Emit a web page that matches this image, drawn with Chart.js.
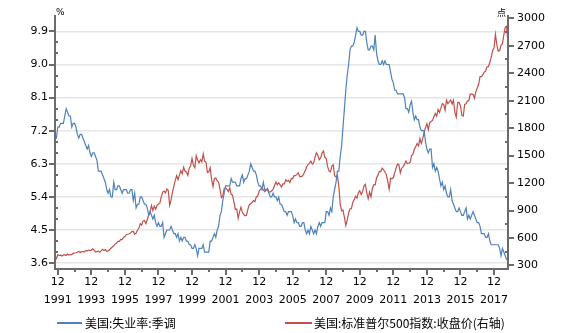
<!DOCTYPE html>
<html><head><meta charset="utf-8">
<script src="https://cdn.jsdelivr.net/npm/chart.js@4/dist/chart.umd.min.js"></script>
<style>
html,body{margin:0;padding:0;background:#fff;}
#wrap{position:relative;width:582px;height:333px;overflow:hidden;}
#c{position:absolute;left:0;top:0;}
.unit{position:absolute;font-family:"DejaVu Sans",sans-serif;font-size:9px;line-height:10px;color:#000;}
.unitcjk{position:absolute;font-family:"Noto Sans CJK SC",sans-serif;font-size:9px;line-height:10px;color:#000;}
.leg{position:absolute;font-family:"Noto Sans CJK SC",sans-serif;font-size:12px;line-height:14px;color:#000;white-space:nowrap;}
.legline{position:absolute;height:2px;}
</style></head>
<body>
<div id="wrap">
<canvas id="c" width="582" height="333"></canvas>
<span class="unit" style="left:56px;top:7px;">%</span>
<span class="unitcjk" style="left:497px;top:8px;">点</span>
<div class="legline" style="left:57px;top:322px;width:25px;background:#4F81BD;"></div>
<span class="leg" style="left:85px;top:316px;">美国:失业率:季调</span>
<div class="legline" style="left:285px;top:322px;width:27px;background:#C0504D;"></div>
<span class="leg" style="left:314px;top:316px;">美国:标准普尔500指数:收盘价(右轴)</span>
</div>
<script>
// Monthly data, Oct 1991 .. Oct 2018
const startLabel = '1991-10';
const seriesNames = ['美国:失业率:季调', '美国:标准普尔500指数:收盘价(右轴)'];

const unemployment = [
  7.0, 7.0, 7.3,
  7.3, 7.4, 7.4, 7.4, 7.6, 7.8, 7.7, 7.6, 7.6, 7.3, 7.4, 7.4,
  7.3, 7.1, 7.0, 7.1, 7.1, 7.0, 6.9, 6.8, 6.7, 6.8, 6.6, 6.5,
  6.6, 6.6, 6.5, 6.4, 6.1, 6.1, 6.1, 6.0, 5.9, 5.8, 5.6, 5.5,
  5.6, 5.4, 5.4, 5.8, 5.6, 5.6, 5.7, 5.7, 5.6, 5.5, 5.6, 5.6,
  5.6, 5.5, 5.5, 5.6, 5.6, 5.3, 5.5, 5.1, 5.2, 5.2, 5.4, 5.4,
  5.3, 5.2, 5.2, 5.1, 4.9, 5.0, 4.9, 4.8, 4.9, 4.7, 4.6, 4.7,
  4.6, 4.6, 4.7, 4.3, 4.4, 4.5, 4.5, 4.5, 4.6, 4.5, 4.4, 4.4,
  4.3, 4.4, 4.2, 4.3, 4.2, 4.3, 4.3, 4.2, 4.2, 4.1, 4.1, 4.0,
  4.0, 4.1, 4.0, 3.8, 4.0, 4.0, 4.0, 4.1, 3.9, 3.9, 3.9, 3.9,
  4.2, 4.2, 4.3, 4.4, 4.3, 4.5, 4.6, 4.9, 5.0, 5.3, 5.5, 5.7,
  5.7, 5.7, 5.7, 5.9, 5.8, 5.8, 5.8, 5.7, 5.7, 5.7, 5.9, 6.0,
  5.8, 5.9, 5.9, 6.0, 6.1, 6.3, 6.2, 6.1, 6.1, 6.0, 5.8, 5.7,
  5.7, 5.6, 5.8, 5.6, 5.6, 5.6, 5.5, 5.4, 5.4, 5.5, 5.4, 5.4,
  5.3, 5.4, 5.2, 5.2, 5.1, 5.0, 5.0, 4.9, 5.0, 5.0, 5.0, 4.9,
  4.7, 4.8, 4.7, 4.7, 4.6, 4.6, 4.7, 4.7, 4.5, 4.4, 4.5, 4.4,
  4.6, 4.5, 4.4, 4.5, 4.4, 4.6, 4.7, 4.6, 4.7, 4.7, 4.7, 5.0,
  5.0, 4.9, 5.1, 5.0, 5.4, 5.6, 5.8, 6.1, 6.1, 6.5, 6.8, 7.3,
  7.8, 8.3, 8.7, 9.0, 9.4, 9.5, 9.5, 9.6, 9.8, 10.0, 9.9, 9.9,
  9.8, 9.8, 9.9, 9.9, 9.6, 9.4, 9.4, 9.5, 9.5, 9.4, 9.8, 9.3,
  9.1, 9.0, 9.0, 9.1, 9.0, 9.1, 9.0, 9.0, 9.0, 8.8, 8.6, 8.5,
  8.3, 8.3, 8.2, 8.2, 8.2, 8.2, 8.2, 8.1, 7.8, 7.8, 7.7, 7.9,
  8.0, 7.7, 7.5, 7.6, 7.5, 7.5, 7.3, 7.2, 7.2, 7.2, 6.9, 6.7,
  6.6, 6.7, 6.7, 6.2, 6.3, 6.1, 6.2, 6.1, 5.9, 5.7, 5.8, 5.6,
  5.7, 5.5, 5.4, 5.4, 5.6, 5.3, 5.2, 5.1, 5.0, 5.0, 5.1, 5.0,
  4.9, 4.9, 5.0, 5.1, 4.8, 4.9, 4.8, 4.9, 5.0, 4.9, 4.8, 4.7,
  4.7, 4.6, 4.4, 4.4, 4.4, 4.3, 4.3, 4.4, 4.2, 4.1, 4.1, 4.1,
  4.1, 4.1, 4.1, 4.0, 3.8, 4.0, 3.9, 3.8, 3.7, 3.7
];

const sp500 = [
  392.45, 375.22, 417.09,
  408.79, 412.70, 403.69, 414.95, 415.35, 408.14, 424.21, 414.03, 417.80, 418.68, 431.35, 435.71,
  438.78, 443.38, 451.67, 440.19, 450.19, 450.53, 448.13, 463.56, 458.93, 467.83, 461.79, 466.45,
  481.61, 467.14, 445.77, 450.91, 456.50, 444.27, 458.26, 475.49, 462.69, 472.35, 453.69, 459.27,
  470.42, 487.39, 500.71, 514.71, 533.40, 544.75, 562.06, 561.88, 584.41, 581.50, 605.37, 615.93,
  636.02, 640.43, 645.50, 654.17, 669.12, 670.63, 639.95, 651.99, 687.31, 705.27, 757.02, 740.74,
  786.16, 790.82, 757.12, 801.34, 848.28, 885.14, 954.29, 899.47, 947.28, 914.62, 955.40, 970.43,
  980.28, 1049.34, 1101.75, 1111.75, 1090.82, 1133.84, 1120.67, 957.28, 1017.01, 1098.67, 1163.63, 1229.23,
  1279.64, 1238.33, 1286.37, 1335.18, 1301.84, 1372.71, 1328.72, 1320.41, 1282.71, 1362.93, 1388.91, 1469.25,
  1394.46, 1366.42, 1498.58, 1452.43, 1420.60, 1454.60, 1430.83, 1517.68, 1436.51, 1429.40, 1314.95, 1320.28,
  1366.01, 1239.94, 1160.33, 1249.46, 1255.82, 1224.42, 1211.23, 1133.58, 1040.94, 1059.78, 1139.45, 1148.08,
  1130.20, 1106.73, 1147.39, 1076.92, 1067.14, 989.82, 911.62, 916.07, 815.28, 885.76, 936.31, 879.82,
  855.70, 841.15, 848.18, 916.92, 963.59, 974.50, 990.31, 1008.01, 995.97, 1050.71, 1058.20, 1111.92,
  1131.13, 1144.94, 1126.21, 1107.30, 1120.68, 1140.84, 1101.72, 1104.24, 1114.58, 1130.20, 1173.82, 1211.92,
  1181.27, 1203.60, 1180.59, 1156.85, 1191.50, 1191.33, 1234.18, 1220.33, 1228.81, 1207.01, 1249.48, 1248.29,
  1280.08, 1280.66, 1294.83, 1310.61, 1270.09, 1270.20, 1276.66, 1303.82, 1335.85, 1377.94, 1400.63, 1418.30,
  1438.24, 1406.82, 1420.86, 1482.37, 1530.62, 1503.35, 1455.27, 1473.99, 1526.75, 1549.38, 1481.14, 1468.36,
  1378.55, 1330.63, 1322.70, 1385.59, 1400.38, 1280.00, 1267.38, 1282.83, 1166.36, 968.75, 896.24, 903.25,
  825.88, 735.09, 797.87, 872.81, 919.14, 919.32, 987.48, 1020.62, 1057.08, 1036.19, 1095.63, 1115.10,
  1073.87, 1104.49, 1169.43, 1186.69, 1089.41, 1030.71, 1101.60, 1049.33, 1141.20, 1183.26, 1180.55, 1257.64,
  1286.12, 1327.22, 1325.83, 1363.61, 1345.20, 1320.64, 1292.28, 1218.89, 1131.42, 1253.30, 1246.96, 1257.60,
  1312.41, 1365.68, 1408.47, 1397.91, 1310.33, 1362.16, 1379.32, 1406.58, 1440.67, 1412.16, 1416.18, 1426.19,
  1498.11, 1514.68, 1569.19, 1597.57, 1630.74, 1606.28, 1685.73, 1632.97, 1681.55, 1756.54, 1805.81, 1848.36,
  1782.59, 1859.45, 1872.34, 1883.95, 1923.57, 1960.23, 1930.67, 2003.37, 1972.29, 2018.05, 2067.56, 2058.90,
  1994.99, 2104.50, 2067.89, 2085.51, 2107.39, 2063.11, 2103.84, 1972.18, 1920.03, 2079.36, 2080.41, 2043.94,
  1940.24, 1932.23, 2059.74, 2065.30, 2096.95, 2098.86, 2173.60, 2170.95, 2168.27, 2126.15, 2198.81, 2238.83,
  2278.87, 2363.64, 2362.72, 2384.20, 2411.80, 2423.41, 2470.30, 2471.65, 2519.36, 2575.26, 2647.58, 2673.61,
  2823.81, 2713.83, 2640.87, 2648.05, 2705.27, 2718.37, 2816.29, 2901.52, 2913.98, 2711.74
];

// x tick positions: month index (0 = Oct 1991) of each December
const xMajorTicks = [2, 26, 50, 74, 98, 122, 146, 170, 194, 218, 242, 266, 290, 314];
const xMinorTicks = [14, 38, 62, 86, 110, 134, 158, 182, 206, 230, 254, 278, 302];
const xTickLabels = [
  ['12','1991'],['12','1993'],['12','1995'],['12','1997'],['12','1999'],['12','2001'],['12','2003'],
  ['12','2005'],['12','2007'],['12','2009'],['12','2011'],['12','2013'],['12','2015'],['12','2017']
];
const leftMajorTicks = [3.6, 4.5, 5.4, 6.3, 7.2, 8.1, 9.0, 9.9];
const leftMinorTicks = [3.9, 4.2, 4.8, 5.1, 5.7, 6.0, 6.6, 6.9, 7.5, 7.8, 8.4, 8.7, 9.3, 9.6];
const rightMajorTicks = [300, 600, 900, 1200, 1500, 1800, 2100, 2400, 2700, 3000];
const rightMinorTicks = [450, 750, 1050, 1350, 1650, 1950, 2250, 2550, 2850];

const axisColor = '#6b6b6b';
const tickFont = {family: 'DejaVu Sans', size: 11};

const tickMarks = {
  id: 'tickMarks',
  afterDraw(chart) {
    const c = chart.ctx;
    const {left, right, bottom} = chart.chartArea;
    const sx = chart.scales.x, sy = chart.scales.y, sy1 = chart.scales.y1;
    c.save();
    c.strokeStyle = axisColor;
    c.lineWidth = 2;
    const seg = (x1, y1, x2, y2) => { c.beginPath(); c.moveTo(x1, y1); c.lineTo(x2, y2); c.stroke(); };
    leftMajorTicks.forEach(v => { const p = Math.round(sy.getPixelForValue(v)); seg(left - 6, p, left, p); });
    leftMinorTicks.forEach(v => { const p = Math.round(sy.getPixelForValue(v)); seg(left, p, left + 3, p); });
    rightMajorTicks.forEach(v => { const p = Math.round(sy1.getPixelForValue(v)); seg(right, p, right + 6, p); });
    rightMinorTicks.forEach(v => { const p = Math.round(sy1.getPixelForValue(v)); seg(right - 3, p, right, p); });
    xMajorTicks.forEach(v => { const p = Math.round(sx.getPixelForValue(v)); seg(p, bottom, p, bottom + 6); });
    xMinorTicks.forEach(v => { const p = Math.round(sx.getPixelForValue(v)); seg(p, bottom, p, bottom + 3); });
    c.restore();
  }
};

new Chart(document.getElementById('c'), {
  type: 'line',
  data: {
    datasets: [
      {label: seriesNames[0], data: unemployment.map((v, i) => ({x: i, y: v})), borderColor: '#4F81BD',
       borderWidth: 1.2, pointRadius: 0, tension: 0, yAxisID: 'y'},
      {label: seriesNames[1], data: sp500.map((v, i) => ({x: i, y: v})), borderColor: '#C0504D',
       borderWidth: 1.2, pointRadius: 0, tension: 0, yAxisID: 'y1'}
    ]
  },
  options: {
    responsive: false,
    animation: false,
    layout: {padding: {top: 13, left: 0, right: 0, bottom: 0}},
    plugins: {legend: {display: false}, tooltip: {enabled: false}},
    scales: {
      x: {
        type: 'linear', min: 0, max: 324,
        afterBuildTicks: s => { s.ticks = xMajorTicks.map(v => ({value: v})); },
        afterFit: s => { s.height = 64; },
        ticks: {autoSkip: false, maxRotation: 0, minRotation: 0, padding: 4, color: '#000',
          font: {family: 'DejaVu Sans', size: 11, lineHeight: 18 / 11},
          callback: v => { const k = xMajorTicks.indexOf(v); return k >= 0 ? xTickLabels[k] : ''; }},
        grid: {drawOnChartArea: false, drawTicks: false},
        border: {color: axisColor, width: 2}
      },
      y: {
        position: 'left', min: 3.44, max: 10.33,
        afterBuildTicks: s => { s.ticks = leftMajorTicks.map(v => ({value: v})); },
        afterFit: s => { s.width = 55; },
        ticks: {padding: 7, color: '#000', font: tickFont, callback: v => Number(v).toFixed(1)},
        grid: {color: '#e6e6e6', lineWidth: 1.5, drawTicks: false},
        border: {color: axisColor, width: 2}
      },
      y1: {
        position: 'right', min: 261, max: 3029,
        afterBuildTicks: s => { s.ticks = rightMajorTicks.map(v => ({value: v})); },
        afterFit: s => { s.width = 74; },
        ticks: {padding: 9, color: '#000', font: tickFont, callback: v => String(v)},
        grid: {drawOnChartArea: false, drawTicks: false},
        border: {color: axisColor, width: 2}
      }
    }
  },
  plugins: [tickMarks]
});
</script>
</body></html>
